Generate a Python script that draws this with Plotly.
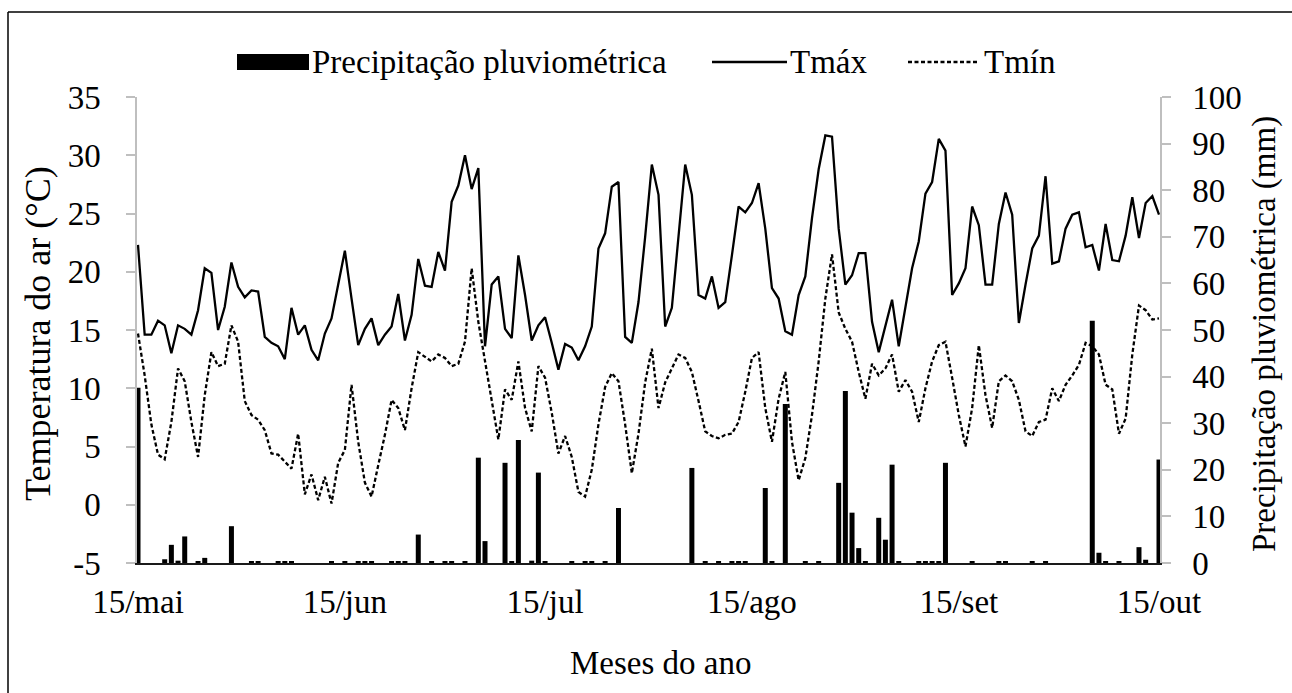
import pandas as pd
import plotly.graph_objects as go

# ---------------- data ----------------
start_date = "2019-05-15"
end_date = "2019-10-15"
dates = pd.date_range(start_date, end_date, freq="D")  # 154 daily records

tick_dates = ["2019-05-15", "2019-06-15", "2019-07-15", "2019-08-15", "2019-09-15", "2019-10-15"]
tick_labels = ["15/mai", "15/jun", "15/jul", "15/ago", "15/set", "15/out"]

temp_ticks = [-5, 0, 5, 10, 15, 20, 25, 30, 35]
temp_tick_labels = ["-5", "0", "5", "10", "15", "20", "25", "30", "35"]
precip_ticks = [0, 10, 20, 30, 40, 50, 60, 70, 80, 90, 100]

tmax = [
    22.3, 14.6, 14.6, 15.8, 15.4, 13.0, 15.4, 15.1, 14.6, 16.7,
    20.3, 19.9, 15.0, 17.0, 20.8, 18.7, 17.8, 18.4, 18.3, 14.4,
    13.9, 13.6, 12.5, 16.9, 14.6, 15.4, 13.3, 12.4, 14.7, 16.0,
    18.9, 21.8, 17.7, 13.7, 15.1, 16.0, 13.7, 14.6, 15.3, 18.1,
    14.1, 16.3, 21.1, 18.8, 18.7, 21.7, 20.1, 26.0, 27.4, 30.0,
    27.1, 28.9, 13.6, 18.9, 19.6, 15.1, 14.3, 21.4, 18.0, 14.1,
    15.4, 16.1, 13.9, 11.6, 13.8, 13.5, 12.4, 13.6, 15.3, 22.0,
    23.3, 27.3, 27.7, 14.4, 13.9, 17.4, 23.0, 29.2, 26.6, 15.3,
    16.9, 23.1, 29.2, 26.6, 18.0, 17.7, 19.6, 16.9, 17.4, 21.4,
    25.6, 25.1, 25.9, 27.6, 23.7, 18.6, 17.7, 14.9, 14.6, 18.0,
    19.6, 24.6, 28.8, 31.7, 31.6, 23.7, 18.9, 19.7, 21.6, 21.6,
    15.7, 13.1, 15.4, 17.6, 13.6, 17.1, 20.3, 22.6, 26.7, 27.7,
    31.4, 30.4, 18.0, 19.0, 20.3, 25.6, 24.0, 18.9, 18.9, 24.1,
    26.8, 24.9, 15.6, 18.9, 22.0, 23.1, 28.2, 20.7, 20.9, 23.7,
    24.9, 25.1, 22.1, 22.3, 20.1, 24.1, 21.0, 20.9, 23.1, 26.4,
    22.9, 25.9, 26.5, 24.9,
]

tmin = [
    14.7, 11.1, 6.9, 4.3, 3.9, 7.1, 11.7, 10.6, 7.1, 4.1,
    9.4, 13.1, 11.9, 12.1, 15.4, 14.0, 8.9, 7.7, 7.3, 6.4,
    4.4, 4.3, 3.7, 3.1, 6.1, 0.9, 2.6, 0.4, 2.4, 0.1,
    3.6, 4.7, 10.3, 5.4, 1.9, 0.7, 3.4, 6.0, 9.0, 8.3,
    6.4, 10.0, 13.1, 12.7, 12.3, 12.9, 12.6, 11.9, 12.1, 14.0,
    20.3, 15.7, 12.3, 8.9, 5.6, 9.9, 9.0, 12.3, 8.3, 6.3,
    11.9, 10.9, 7.9, 4.4, 5.9, 4.1, 1.1, 0.7, 3.0, 6.9,
    10.1, 11.3, 10.6, 6.9, 2.7, 6.1, 10.5, 13.4, 8.3, 10.5,
    11.7, 12.9, 12.6, 11.4, 8.9, 6.3, 5.9, 5.7, 6.0, 6.1,
    7.1, 9.7, 12.6, 13.1, 8.3, 5.4, 9.1, 11.4, 5.4, 2.1,
    4.0, 7.7, 12.3, 17.7, 21.5, 16.5, 15.1, 14.0, 11.4, 9.1,
    12.1, 11.1, 11.7, 12.9, 9.7, 10.7, 9.7, 7.1, 10.0, 12.3,
    13.7, 14.0, 10.9, 7.7, 5.0, 8.3, 13.7, 9.4, 6.6, 10.6,
    11.1, 10.6, 9.0, 6.3, 5.9, 7.1, 7.3, 10.0, 8.9, 10.3,
    11.1, 12.0, 13.9, 13.6, 12.9, 10.3, 9.9, 6.1, 7.4, 12.9,
    17.1, 16.7, 15.9, 16.0,
]

precip = [
    37.6, 0, 0, 0, 0.8, 3.9, 0.5, 5.7, 0, 0.4,
    1.1, 0, 0, 0, 7.9, 0, 0, 0.3, 0.3, 0,
    0, 0.3, 0.3, 0.3, 0, 0, 0, 0, 0, 0.3,
    0, 0.3, 0, 0.3, 0.3, 0.3, 0, 0, 0.4, 0.4,
    0.4, 0, 6.1, 0, 0.3, 0, 0.3, 0.3, 0, 0.3,
    0, 22.6, 4.7, 0, 0, 21.5, 0.4, 26.4, 0, 0.5,
    19.4, 0.3, 0, 0, 0, 0.3, 0, 0.3, 0.3, 0,
    0.3, 0, 11.8, 0, 0, 0, 0, 0, 0, 0,
    0, 0, 0, 20.4, 0, 0.3, 0, 0.3, 0, 0.4,
    0.3, 0.3, 0, 0, 16.1, 0.3, 0, 34.1, 0, 0,
    0.3, 0, 0.3, 0, 0, 17.2, 36.9, 10.8, 3.2, 0.4,
    0, 9.7, 5.0, 21.1, 0.4, 0, 0, 0.3, 0.4, 0.3,
    0.4, 21.5, 0, 0, 0, 0.4, 0, 0, 0, 0.3,
    0.3, 0, 0, 0, 0.3, 0, 0.3, 0, 0, 0,
    0, 0, 0, 52.0, 2.2, 0.3, 0, 0.3, 0, 0,
    3.4, 0.7, 0, 22.2,
]

name_precip = "Precipitação pluviométrica"
name_tmax = "Tmáx"
name_tmin = "Tmín"
title_x = "Meses do ano"
title_left = "Temperatura do ar (°C)"
title_right = "Precipitação pluviométrica (mm)"

# ---------------- layout geometry ----------------
W, H = 1292, 693
L, R, T, B = 137, 1160, 97, 563
FONT = "Liberation Serif, Times New Roman, serif"
FS = 33
AXIS_GRAY = "#BFBFBF"


def px(x):
    return (x - L) / (R - L)


def py(y):
    return (B - y) / (B - T)


TMIN_DASH = "4px,2.5px"

fig = go.Figure()
fig.add_trace(go.Bar(
    x=dates, y=precip, name=name_precip, yaxis="y",
    marker=dict(color="black", line=dict(width=0)), showlegend=False,
))
fig.add_trace(go.Scatter(
    x=dates, y=tmax, name=name_tmax, yaxis="y2", mode="lines",
    line=dict(color="black", width=2.3), showlegend=False,
))
fig.add_trace(go.Scatter(
    x=dates, y=tmin, name=name_tmin, yaxis="y2", mode="lines",
    line=dict(color="black", width=2.3, dash=TMIN_DASH), showlegend=False,
))

half_day = pd.Timedelta(hours=3.6)
fig.update_layout(
    width=W, height=H, autosize=False,
    margin=dict(l=L, r=W - R, t=T, b=H - B, pad=0),
    paper_bgcolor="white", plot_bgcolor="white",
    font=dict(family=FONT, size=FS, color="black"),
    bargap=0.25,
    xaxis=dict(
        type="date",
        range=[dates[0] - half_day, dates[-1] + half_day],
        tickmode="array", tickvals=tick_dates, ticktext=tick_labels,
        showgrid=False, zeroline=False,
        showline=True, linecolor="#1a1a1a", linewidth=2,
        ticks="", tickfont=dict(family=FONT, size=FS, color="black"),
        ticklabelstandoff=8,
    ),
    yaxis=dict(
        side="right", range=[0, 100],
        tickmode="array", tickvals=precip_ticks,
        showgrid=False, zeroline=False,
        showline=True, linecolor=AXIS_GRAY, linewidth=1.5,
        ticks="outside", ticklen=9, tickwidth=1.5, tickcolor=AXIS_GRAY,
        tickfont=dict(family=FONT, size=FS, color="black"),
        ticklabelstandoff=15,
    ),
    yaxis2=dict(
        overlaying="y", side="left", range=[-5, 35],
        tickmode="array", tickvals=temp_ticks, ticktext=temp_tick_labels,
        showgrid=False, zeroline=False,
        showline=True, linecolor=AXIS_GRAY, linewidth=1.5,
        ticks="outside", ticklen=9, tickwidth=1.5, tickcolor=AXIS_GRAY,
        tickfont=dict(family=FONT, size=FS, color="black"),
        ticklabelstandoff=19,
    ),
)

# axis titles
ann_font = dict(family=FONT, size=FS, color="black")
fig.add_annotation(text=title_x, x=px(660), y=py(663), xref="paper", yref="paper",
                   showarrow=False, xanchor="center", yanchor="middle", font=ann_font)
fig.add_annotation(text=title_left, x=px(38), y=py(334), xref="paper", yref="paper",
                   showarrow=False, xanchor="center", yanchor="middle", textangle=-90,
                   font=dict(family=FONT, size=36, color="black"))
fig.add_annotation(text=title_right, x=px(1264), y=py(334), xref="paper", yref="paper",
                   showarrow=False, xanchor="center", yanchor="middle", textangle=-90, font=ann_font)

# legend (drawn manually to reproduce the wide swatches)
LEG_Y = 62
fig.add_shape(type="rect", xref="paper", yref="paper",
              x0=px(237), x1=px(309), y0=py(70), y1=py(54),
              fillcolor="black", line=dict(width=0))
fig.add_annotation(text=name_precip, x=px(310), y=py(LEG_Y), xref="paper", yref="paper",
                   showarrow=False, xanchor="left", yanchor="middle", font=ann_font)
fig.add_shape(type="line", xref="paper", yref="paper",
              x0=px(712), x1=px(787), y0=py(LEG_Y), y1=py(LEG_Y),
              line=dict(color="black", width=2.3))
fig.add_annotation(text=name_tmax, x=px(788), y=py(LEG_Y), xref="paper", yref="paper",
                   showarrow=False, xanchor="left", yanchor="middle", font=ann_font)
fig.add_shape(type="line", xref="paper", yref="paper",
              x0=px(908), x1=px(978), y0=py(LEG_Y), y1=py(LEG_Y),
              line=dict(color="black", width=2.3, dash=TMIN_DASH))
fig.add_annotation(text=name_tmin, x=px(982), y=py(LEG_Y), xref="paper", yref="paper",
                   showarrow=False, xanchor="left", yanchor="middle", font=ann_font)

# frame lines of the figure (top and left edges visible in the reference)
fig.add_shape(type="line", xref="paper", yref="paper",
              x0=px(8), x1=px(W), y0=py(12), y1=py(12), line=dict(color="black", width=1.5))
fig.add_shape(type="line", xref="paper", yref="paper",
              x0=px(8), x1=px(8), y0=py(12), y1=py(H), line=dict(color="black", width=1.5))

fig.write_html(
    "out.html",
    include_plotlyjs=True,
    config={"displayModeBar": False},
    post_script="document.body.style.margin='0';document.body.style.overflow='hidden';",
)
